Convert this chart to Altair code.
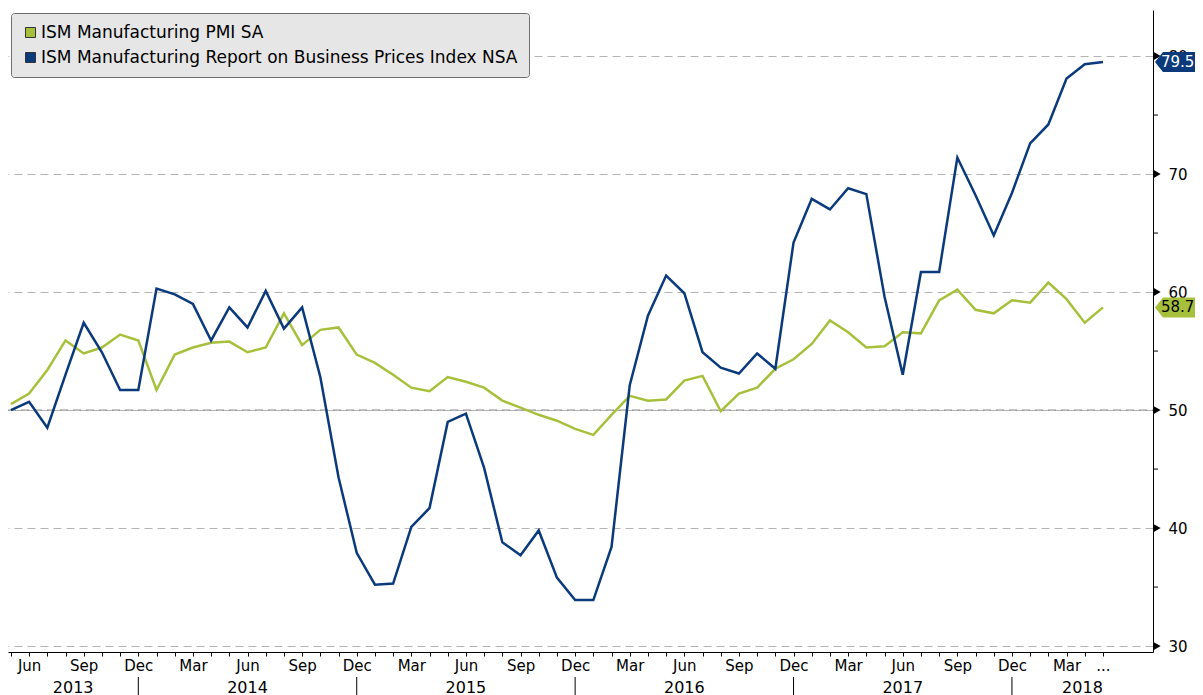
import json
import altair as alt
import pandas as pd

# ---------------- data ----------------
MONTHS = ["Jan", "Feb", "Mar", "Apr", "May", "Jun", "Jul", "Aug", "Sep", "Oct", "Nov", "Dec"]
START_YEAR = 2013
START_MONTH = 5  # May 2013
QUARTER_MONTHS = ["Mar", "Jun", "Sep", "Dec"]
LAST_LABEL = "..."
SERIES = ["ISM Manufacturing PMI SA", "ISM Manufacturing Report on Business Prices Index NSA"]
COLORS = ["#a7c03c", "#0b3a7c"]
BADGE_TEXT_COLORS = ["#000000", "#ffffff"]

PMI = [50.5, 51.4, 53.4, 55.9, 54.8, 55.3, 56.4, 55.9, 51.7, 54.7, 55.3, 55.7, 55.8, 54.9,
       55.3, 58.2, 55.5, 56.8, 57.0, 54.7, 54.0, 53.0, 51.9, 51.6, 52.8, 52.4, 51.9, 50.8,
       50.2, 49.6, 49.1, 48.4, 47.9, 49.6, 51.2, 50.8, 50.9, 52.5, 52.9, 49.9, 51.4, 51.9,
       53.5, 54.3, 55.6, 57.6, 56.6, 55.3, 55.4, 56.6, 56.5, 59.3, 60.2, 58.5, 58.2, 59.3,
       59.1, 60.8, 59.4, 57.4, 58.7]
PRICES = [50.0, 50.7, 48.5, 53.0, 57.4, 54.9, 51.7, 51.7, 60.3, 59.8, 59.0, 55.9, 58.7, 57.0,
          60.1, 56.9, 58.7, 52.8, 44.3, 37.9, 35.2, 35.3, 40.1, 41.7, 49.0, 49.7, 45.1, 38.8,
          37.7, 39.8, 35.8, 33.9, 33.9, 38.4, 52.1, 58.0, 61.4, 59.9, 54.9, 53.6, 53.1, 54.8,
          53.5, 64.2, 67.9, 67.0, 68.8, 68.3, 59.6, 53.0, 61.7, 61.7, 71.4, 68.2, 64.8, 68.4,
          72.6, 74.2, 78.1, 79.3, 79.5]

Y_TICKS = [30, 40, 50, 60, 70, 80]
Y_MINOR = [35, 45, 55, 65, 75]
REF_LEVEL = [50]

# ---------------- derived tables ----------------
n = len(PMI)
idx = list(range(n))
month_names = [MONTHS[(START_MONTH - 1 + i) % 12] for i in idx]
years = [START_YEAR + (START_MONTH - 1 + i) // 12 for i in idx]
tick_labels = [m if m in QUARTER_MONTHS else "" for m in month_names]
tick_labels[-1] = LAST_LABEL

X_DOMAIN = [-0.16, 62.75]
Y_DOMAIN = [29.5, 83.9]
W, H = 1145, 642
FONT = "DejaVu Sans"

rows = []
for s, c, vals in zip(SERIES, COLORS, [PMI, PRICES]):
    for i, v in zip(idx, vals):
        rows.append({"idx": i, "value": v, "series": s, "hex": c})
df = pd.DataFrame(rows)

dec_idx = [i for i in idx if month_names[i] == "Dec"]
bounds = [X_DOMAIN[0]] + dec_idx + [X_DOMAIN[1]]
uniq_years = sorted(set(years))
year_df = pd.DataFrame({
    "year": [str(y) for y in uniq_years],
    "center": [(bounds[k] + bounds[k + 1]) / 2 for k in range(len(uniq_years))],
})
sep_df = pd.DataFrame({"idx": dec_idx})

badge_df = pd.DataFrame({
    "name": SERIES,
    "hex": COLORS,
    "value": [PMI[-1], PRICES[-1]],
    "label": [f"{PMI[-1]:.1f}", f"{PRICES[-1]:.1f}"],
    "tcolor": BADGE_TEXT_COLORS,
})
legend_df = pd.DataFrame({"name": SERIES})

xscale = alt.Scale(domain=X_DOMAIN, nice=False, zero=False)
yscale = alt.Scale(domain=Y_DOMAIN, nice=False, zero=False)

x_axis = alt.Axis(
    values=idx,
    labelExpr=json.dumps(tick_labels) + "[datum.value]",
    title=None, grid=False, ticks=True, tickSize=4, tickColor="#000000",
    domainColor="#000000", labelFont=FONT, labelFontSize=15, labelColor="#000000",
    labelPadding=2, labelOverlap=False, labelFlush=False,
)
y_axis = alt.Axis(
    orient="right", values=Y_TICKS, title=None, grid=True, gridDash=[8, 5],
    gridColor="#b4b4b4", gridWidth=1, ticks=False, domainColor="#000000",
    labelFont=FONT, labelFontSize=15, labelColor="#000000", labelPadding=15,
)


def X(field):
    return alt.X(field, scale=xscale, axis=x_axis, title=None)


def Y(field):
    return alt.Y(field, scale=yscale, axis=y_axis, title=None)


lines = alt.Chart(df).mark_line(strokeWidth=2.5).encode(
    x=X("idx:Q"),
    y=Y("value:Q"),
    stroke=alt.Stroke("hex:N", scale=None),
    detail="series:N",
)

ref = alt.Chart(pd.DataFrame({"v": REF_LEVEL})).mark_rule(
    color="#808080", strokeWidth=1, strokeDash=[8, 5]
).encode(y=Y("v:Q"), x=alt.value(0), x2=alt.value(W))

minor = alt.Chart(pd.DataFrame({"v": Y_MINOR})).mark_rule(color="#000000", strokeWidth=1).encode(
    y=Y("v:Q"), x=alt.value(W), x2=alt.value(W + 5)
)
tri = alt.Chart(pd.DataFrame({"v": Y_TICKS})).mark_point(
    shape="triangle-right", filled=True, color="#000000", opacity=1, size=70
).encode(y=Y("v:Q"), x=alt.value(W + 4))

seps = alt.Chart(sep_df).mark_rule(color="#000000", strokeWidth=1).encode(
    x=X("idx:Q"), y=alt.value(H + 25), y2=alt.value(H + 43)
)
year_text = alt.Chart(year_df).mark_text(
    font=FONT, fontSize=16, color="#000000", baseline="middle", align="center"
).encode(x=X("center:Q"), y=alt.value(H + 36), text="year:N")

BADGE_W = 42
BADGE_PATH = "M-1,0L-0.62,-0.476L1,-0.476L1,0.476L-0.62,0.476Z"
badges = alt.Chart(badge_df).mark_point(
    shape=BADGE_PATH, filled=True, opacity=1, size=BADGE_W * BADGE_W, strokeWidth=0
).encode(
    y=Y("value:Q"),
    x=alt.value(W + 2 + BADGE_W / 2),
    fill=alt.Fill("hex:N", scale=None),
)
badge_text = alt.Chart(badge_df).mark_text(
    font=FONT, fontSize=15, align="left", baseline="middle"
).encode(
    y=Y("value:Q"),
    x=alt.value(W + 8),
    text="label:N",
    fill=alt.Fill("tcolor:N", scale=None),
)

legend_layer = alt.Chart(legend_df).mark_square(size=0, opacity=1).encode(
    x=alt.value(0), y=alt.value(0),
    color=alt.Color(
        "name:N",
        scale=alt.Scale(domain=SERIES, range=COLORS),
        legend=alt.Legend(
            title=None, orient="none", legendX=3, legendY=3,
            fillColor="#e6e6e6", strokeColor="#6e6e6e", cornerRadius=3, padding=11,
            symbolType="square", symbolSize=100, symbolStrokeColor="#333333",
            symbolStrokeWidth=1, symbolOpacity=1, labelFont=FONT, labelFontSize=17,
            labelColor="#000000", labelLimit=1000, rowPadding=7, labelOffset=2,
        ),
    ),
)

chart = alt.layer(ref, lines, minor, tri, seps, year_text, badges, badge_text, legend_layer).properties(
    width=W, height=H,
    padding={"left": 0, "top": 2, "right": 42, "bottom": 46},
    autosize=alt.AutoSizeParams(type="none"),
    background="#ffffff",
).configure_view(stroke=None)

chart.save("out.html", embed_options={"renderer": "svg", "actions": False})
